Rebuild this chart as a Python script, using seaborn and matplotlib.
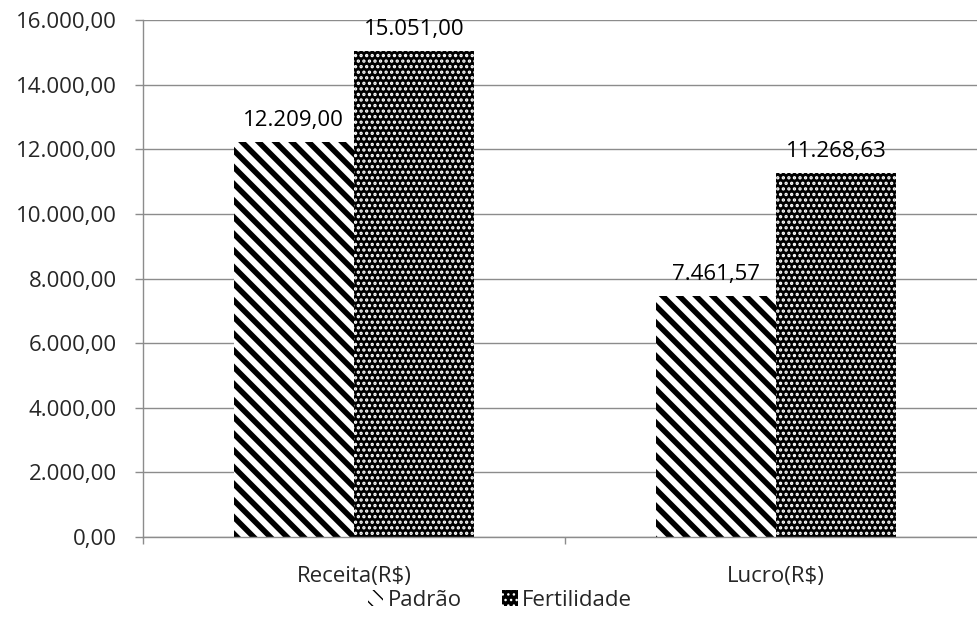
import numpy as np
import pandas as pd
import matplotlib
matplotlib.use('Agg')
import matplotlib.pyplot as plt
from matplotlib.patches import Patch
import seaborn as sns

categorias = ['Receita(R$)', 'Lucro(R$)']
series = ['Padrão', 'Fertilidade']
padrao = [12209.00, 7461.57]
fertilidade = [15051.00, 11268.63]


def fmt_br(v):
    s = f'{v:,.2f}'
    return s.replace(',', 'X').replace('.', ',').replace('X', '.')


df = pd.DataFrame({
    'categoria': categorias * 2,
    'serie': [series[0]] * 2 + [series[1]] * 2,
    'valor': padrao + fertilidade,
})

sns.set_theme(style='white')
plt.rcParams['font.family'] = ['Open Sans', 'DejaVu Sans']

estilos = {
    'Padrão': dict(facecolor='white', edgecolor='black', hatch='\\\\', hlw=4.0),
    'Fertilidade': dict(facecolor='black', edgecolor='white', hatch='...', hlw=1.6),
}

fig = plt.figure(figsize=(9.77, 6.44), dpi=100)
ax = fig.add_axes([143 / 977, 1 - 537 / 644, 844 / 977, 517 / 644])

sns.barplot(data=df, x='categoria', y='valor', hue='serie', ax=ax,
            width=0.57, dodge=True, saturation=1, errorbar=None, legend=False,
            palette={'Padrão': 'white', 'Fertilidade': 'black'})


def estilizar(p, est):
    p.set_linewidth(0)
    p.set_facecolor(est['facecolor'])
    p.set_edgecolor(est['edgecolor'])
    p.set_hatch(est['hatch'])
    if hasattr(p, 'set_hatch_linewidth'):
        p.set_hatch_linewidth(est['hlw'])
    else:
        p._hatch_linewidth = est['hlw']


for cont, s in zip(ax.containers, series):
    for bar in cont:
        estilizar(bar, estilos[s])
    labels = [fmt_br(b.get_height()) for b in cont]
    ax.bar_label(cont, labels=labels, padding=8, fontsize=16, color='black')

ax.set_ylim(0, 16000)
ax.set_xlim(-0.5, 1.5)
ax.set_yticks(np.arange(0, 16001, 2000))
ax.set_yticklabels([fmt_br(v) for v in np.arange(0, 16001, 2000)], fontsize=16)
ax.yaxis.grid(True, color='#8c8c8c', linewidth=1)
ax.set_axisbelow(True)
ax.set_xlabel('')
ax.set_ylabel('')
ax.tick_params(axis='x', labelsize=16, length=0, pad=21)
ax.tick_params(axis='y', length=6, color='#8c8c8c', width=1, left=True, pad=13)
ax.set_xticks([-0.5, 0.5, 1.5], minor=True)
ax.tick_params(axis='x', which='minor', length=5, color='#8c8c8c', bottom=True)

for side in ['top', 'right']:
    ax.spines[side].set_visible(False)
for side in ['left', 'bottom']:
    ax.spines[side].set_color('#8c8c8c')
    ax.spines[side].set_linewidth(1)

handles = []
for s in series:
    h = Patch(label=s)
    estilizar(h, dict(estilos[s], hlw=estilos[s]['hlw'] * 0.8))
    handles.append(h)

ax.legend(handles=handles, loc='center', bbox_to_anchor=(500 / 977, 1 - 600 / 644),
          bbox_transform=fig.transFigure, ncol=2, frameon=False,
          fontsize=16, handlelength=0.7, handleheight=0.7, handletextpad=0.2,
          columnspacing=1.8)

fig.savefig('out.png', dpi=100)
